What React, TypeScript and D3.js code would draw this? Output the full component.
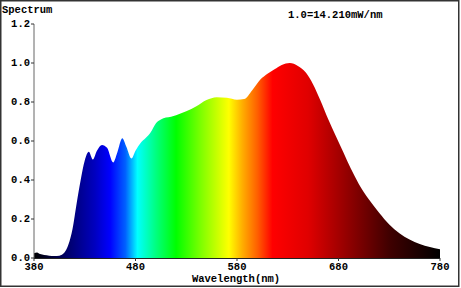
import React from "react";
import * as d3 from "d3";

const wavelengths = [380, 383, 386, 390, 395, 400, 405, 410, 414, 418, 422, 426, 430, 434, 438, 442, 447, 452, 458, 462, 467, 471, 476, 480, 485, 490, 495, 500, 505, 510, 515, 520, 530, 540, 550, 560, 570, 580, 587, 595, 603, 610, 617, 624, 632, 640, 648, 655, 662, 670, 677, 685, 692, 700, 710, 720, 730, 740, 750, 760, 770, 780];
const intensity = [0.025, 0.028, 0.02, 0.015, 0.012, 0.01, 0.012, 0.028, 0.07, 0.15, 0.28, 0.4, 0.5, 0.545, 0.505, 0.55, 0.58, 0.565, 0.49, 0.54, 0.614, 0.57, 0.51, 0.55, 0.59, 0.615, 0.645, 0.69, 0.71, 0.72, 0.725, 0.732, 0.752, 0.778, 0.81, 0.825, 0.822, 0.812, 0.815, 0.86, 0.915, 0.945, 0.968, 0.99, 1.0, 0.985, 0.95, 0.89, 0.81, 0.71, 0.63, 0.54, 0.46, 0.38, 0.3, 0.232, 0.172, 0.127, 0.095, 0.072, 0.056, 0.045];

const colorWavelengths = [380, 400, 420, 440, 455, 470, 482, 500, 520, 545, 572, 585, 600, 615, 650, 690, 730, 780];
const colorValues = ["#000000", "#000040", "#000080", "#0000c0", "#0000ff", "#0060ff", "#00ffff", "#00ff80", "#00ff00", "#80ff00", "#ffff00", "#ffb000", "#ff6000", "#ff0000", "#e00000", "#900000", "#400000", "#000000"];

const xTicks = [380, 480, 580, 680, 780];
const yTicks = [0, 0.2, 0.4, 0.6, 0.8, 1.0, 1.2];

const titleText = "Spectrum";
const scaleText = "1.0=14.210mW/nm";
const xLabel = "Wavelength(nm)";

export default function App() {
  const W = 461, H = 288;
  const x = d3.scaleLinear().domain([380, 780]).range([34, 440]);
  const y = d3.scaleLinear().domain([0, 1.2]).range([258, 24]);
  const data = wavelengths.map((w, i) => ({ w, v: intensity[i] }));
  const area = d3
    .area<{ w: number; v: number }>()
    .x((d) => x(d.w))
    .y0(y(0))
    .y1((d) => y(d.v))
    .curve(d3.curveMonotoneX);
  const font = { fontFamily: "'Liberation Mono', 'Courier New', monospace", fontWeight: 700, fontSize: 10.5 };
  const x0 = x(380), x1 = x(780);
  return (
    <svg width={W} height={H} style={{ position: "absolute", left: 0, top: 0, display: "block", background: "#fff" }}>
      <defs>
        <linearGradient id="spec" gradientUnits="userSpaceOnUse" x1={x0} x2={x1} y1={0} y2={0}>
          {colorWavelengths.map((w, i) => (
            <stop key={i} offset={(x(w) - x0) / (x1 - x0)} stopColor={colorValues[i]} />
          ))}
        </linearGradient>
      </defs>
      <rect x={0.75} y={0.75} width={458} height={285.5} fill="none" stroke="#333" strokeWidth={1.5} />
      <path d={area(data) || ""} fill="url(#spec)" />
      <line x1={x0} x2={x0} y1={y(1.2)} y2={y(0)} stroke="#666" strokeWidth={1} />
      {yTicks.map((t) => (
        <g key={t}>
          <line x1={x0 - 3} x2={x0} y1={y(t)} y2={y(t)} stroke="#333" />
          <text x={x0 - 4} y={y(t) + 3} textAnchor="end" {...font} fill="#000">
            {t.toFixed(1)}
          </text>
        </g>
      ))}
      <line x1={x0} x2={x1} y1={y(0) + 0.5} y2={y(0) + 0.5} stroke="#222" strokeWidth={1} />
      {xTicks.map((t) => (
        <g key={t}>
          <line x1={x(t)} x2={x(t)} y1={y(0)} y2={y(0) + 3} stroke="#333" />
          <text x={x(t)} y={270} textAnchor="middle" {...font} fill="#000">
            {t}
          </text>
        </g>
      ))}
      <text x={236} y={282} textAnchor="middle" {...font} fill="#000">
        {xLabel}
      </text>
      <text x={2} y={13} {...font} fill="#000">
        {titleText}
      </text>
      <text x={288} y={18} {...font} fill="#000">
        {scaleText}
      </text>
    </svg>
  );
}
